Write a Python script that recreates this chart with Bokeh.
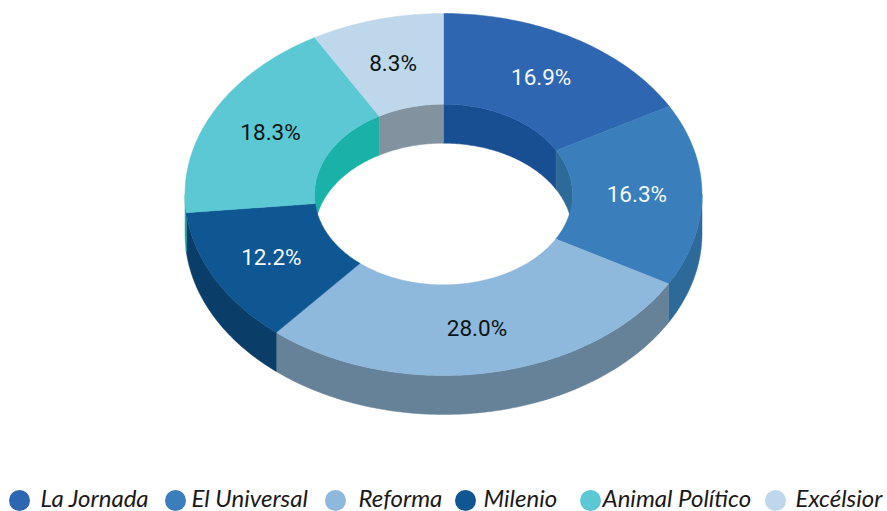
import numpy as np
from bokeh.plotting import figure
from bokeh.embed import file_html
from bokeh.resources import INLINE
from bokeh.core.properties import value
from bokeh.models import Range1d

categories = ["La Jornada", "El Universal", "Reforma", "Milenio", "Animal Político", "Excélsior"]
shares = [16.9, 16.3, 28.0, 12.2, 18.3, 8.3]
labels = ["16.9%", "16.3%", "28.0%", "12.2%", "18.3%", "8.3%"]
top_colors = ["#2F66B2", "#3A7FBB", "#8EB8DC", "#0F5792", "#5BC8D4", "#BFD7EB"]
side_colors = ["#184E92", "#2E6A99", "#668299", "#0B3D69", "#1AB2A8", "#82939F"]
label_colors = ["#F4F8FB", "#F4F8FB", "#0A1414", "#F4F8FB", "#0A1414", "#0A1414"]

# layout of the projected ring, in page pixels
CX, CY, RX, RY, INNER, DEPTH = 443.0, 194.0, 258.5, 181.0, 0.499, 39.0
legend_dot_x = [19, 175, 335, 465, 590, 775]
legend_text_x = [40, 191, 358, 483, 602, 795]
LEGEND_Y = 496.5

edges = np.concatenate([[0], np.cumsum(shares)]) / np.sum(shares) * 360.0


def arc(a0, a1, k=1.0, dy=0.0):
    t = np.radians(np.linspace(a0, a1, max(int(abs(a1 - a0)) + 2, 3)))
    return CX + k * RX * np.sin(t), CY - k * RY * np.cos(t) + dy


p = figure(width=887, height=511, output_backend="svg", toolbar_location=None,
           x_range=Range1d(0, 887), y_range=Range1d(511, 0),
           min_border=0, outline_line_color=None)
p.axis.visible = False
p.grid.visible = False

# outer wall (front half) and inner wall (back half), painted first
for i in range(len(shares)):
    a0, a1 = edges[i], edges[i + 1]
    s0, s1 = max(a0, 90.0), min(a1, 270.0)
    if s1 > s0:
        x1, y1 = arc(s0, s1)
        x2, y2 = arc(s0, s1, dy=DEPTH)
        p.patch(np.r_[x1, x2[::-1]], np.r_[y1, y2[::-1]], color=side_colors[i], line_width=0.5)
    for lo, hi in ((0.0, 90.0), (270.0, 360.0)):
        s0, s1 = max(a0, lo), min(a1, hi)
        if s1 > s0:
            x1, y1 = arc(s0, s1, INNER)
            x2, y2 = arc(s0, s1, INNER, DEPTH)
            p.patch(np.r_[x1, x2[::-1]], np.r_[y1, y2[::-1]], color=side_colors[i], line_width=0.5)

# top face
for i in range(len(shares)):
    x1, y1 = arc(edges[i], edges[i + 1])
    x2, y2 = arc(edges[i], edges[i + 1], INNER)
    p.patch(np.r_[x1, x2[::-1]], np.r_[y1, y2[::-1]], color=top_colors[i], line_width=0.5)

# value labels
mids = np.radians((edges[:-1] + edges[1:]) / 2)
p.text(CX + 0.75 * RX * np.sin(mids) - 0.5, CY - 0.75 * RY * np.cos(mids) - 0.5, text=labels,
       text_font=value("Roboto"), text_font_size="22.5px", text_color=label_colors,
       text_align="center", text_baseline="middle")

# legend
p.scatter(legend_dot_x, [LEGEND_Y + 3.5] * 6, size=21, color=top_colors, line_width=0)
p.text(legend_text_x, [LEGEND_Y] * 6, text=categories,
       text_font=value("Lato"), text_font_style="italic", text_font_size="24px",
       text_color="#1A1A1A", text_align="left", text_baseline="middle")

open("out.html", "w").write(file_html(p, INLINE))
